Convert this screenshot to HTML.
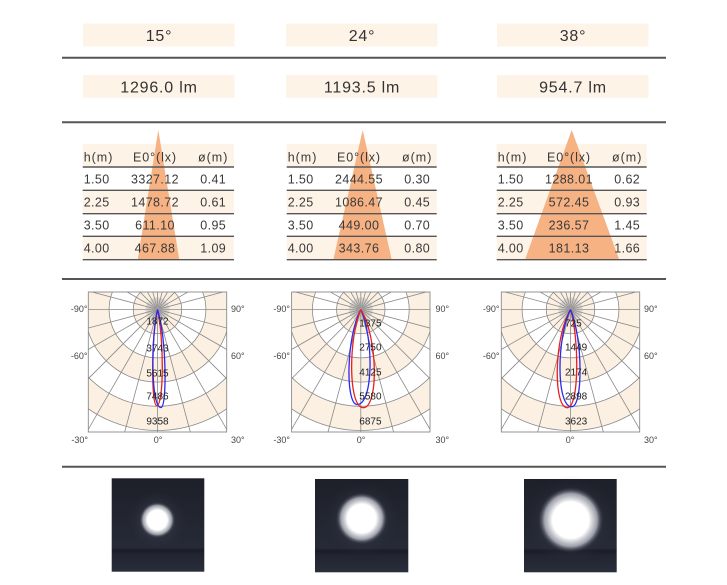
<!DOCTYPE html>
<html><head><meta charset="utf-8"><style>
html,body{margin:0;padding:0;background:#fff;}
svg{display:block;font-family:"Liberation Sans",sans-serif;}
</style></head><body>
<svg width="727" height="585" viewBox="0 0 727 585" xmlns="http://www.w3.org/2000/svg">
<defs>
<clipPath id="pc"><rect x="-69.2" y="-17.5" width="138.4" height="140"/></clipPath>
<linearGradient id="bg" x1="0" y1="0" x2="0" y2="1">
<stop offset="0" stop-color="#1d2029"/><stop offset="0.74" stop-color="#262a36"/>
<stop offset="0.77" stop-color="#1a1d26"/><stop offset="0.82" stop-color="#222531"/>
<stop offset="1" stop-color="#2a2d3a"/></linearGradient>
<radialGradient id="sp"><stop offset="0" stop-color="#fff"/><stop offset="0.55" stop-color="#fff"/>
<stop offset="0.8" stop-color="#c4c7d0" stop-opacity="0.75"/><stop offset="1" stop-color="#303442" stop-opacity="0"/></radialGradient>
<radialGradient id="gl"><stop offset="0" stop-color="#7d8190" stop-opacity="0.45"/><stop offset="1" stop-color="#303442" stop-opacity="0"/></radialGradient>
</defs>

<!-- header boxes -->
<g fill="#fdf3e7">
<rect x="83" y="23.5" width="151.5" height="23"/><rect x="286" y="23.5" width="151.5" height="23"/><rect x="497" y="23.5" width="151.5" height="23"/>
<rect x="83" y="75" width="151.5" height="22.7"/><rect x="286" y="75" width="151.5" height="22.7"/><rect x="497" y="75" width="151.5" height="22.7"/>
</g>
<g font-size="16" fill="#333" text-anchor="middle" letter-spacing="0.8">
<text x="159" y="40.8">15°</text><text x="362" y="40.8">24°</text><text x="573" y="40.8">38°</text>
<text x="159" y="92.3">1296.0 lm</text><text x="362" y="92.3">1193.5 lm</text><text x="573" y="92.3">954.7 lm</text>
</g>

<g stroke="#555" stroke-width="2">
<line x1="62" y1="57.7" x2="666" y2="57.7"/><line x1="62" y1="122.3" x2="666" y2="122.3"/>
<line x1="62" y1="279" x2="666" y2="279"/><line x1="62" y1="466.7" x2="666" y2="466.7"/>
</g>

<!-- tables -->
<g fill="#fdf3e7">
<rect x="82.7" y="144" width="151.3" height="23"/><rect x="82.7" y="190.3" width="151.3" height="23.4"/><rect x="82.7" y="236.3" width="151.3" height="23.4"/>
<rect x="286.7" y="144" width="150" height="23"/><rect x="286.7" y="190.3" width="150" height="23.4"/><rect x="286.7" y="236.3" width="150" height="23.4"/>
<rect x="496.7" y="144" width="150" height="23"/><rect x="496.7" y="190.3" width="150" height="23.4"/><rect x="496.7" y="236.3" width="150" height="23.4"/>
</g>
<g fill="#f6b283">
<polygon points="158.3,130 137.7,259.7 179.3,259.7"/>
<polygon points="362.7,130 333.3,259.7 391.7,259.7"/>
<polygon points="571.7,130 525,259.7 619.3,259.7"/>
</g>
<g stroke="#555" stroke-width="1.4">
<path d="M82.7 167H234M82.7 190.3H234M82.7 213.7H234M82.7 236.3H234M82.7 259.7H234"/>
<path d="M286.7 167H436.7M286.7 190.3H436.7M286.7 213.7H436.7M286.7 236.3H436.7M286.7 259.7H436.7"/>
<path d="M496.7 167H646.7M496.7 190.3H646.7M496.7 213.7H646.7M496.7 236.3H646.7M496.7 259.7H646.7"/>
</g>
<g font-size="12.5" fill="#3a3a3a" letter-spacing="0.4">
<g><text x="83.7" y="161.7" letter-spacing="1">h(m)</text><text x="83.7" y="183.7">1.50</text><text x="83.7" y="206.7">2.25</text><text x="83.7" y="229.4">3.50</text><text x="83.7" y="252.7">4.00</text></g>
<g text-anchor="middle"><text x="155" y="161.7" letter-spacing="0.9">E0°(lx)</text><text x="155" y="183.7">3327.12</text><text x="155" y="206.7">1478.72</text><text x="155" y="229.4">611.10</text><text x="155" y="252.7">467.88</text></g>
<g text-anchor="middle"><text x="213.2" y="161.7" letter-spacing="1">ø(m)</text><text x="213.2" y="183.7">0.41</text><text x="213.2" y="206.7">0.61</text><text x="213.2" y="229.4">0.95</text><text x="213.2" y="252.7">1.09</text></g>

<g><text x="287.7" y="161.7" letter-spacing="1">h(m)</text><text x="287.7" y="183.7">1.50</text><text x="287.7" y="206.7">2.25</text><text x="287.7" y="229.4">3.50</text><text x="287.7" y="252.7">4.00</text></g>
<g text-anchor="middle"><text x="359" y="161.7" letter-spacing="0.9">E0°(lx)</text><text x="359" y="183.7">2444.55</text><text x="359" y="206.7">1086.47</text><text x="359" y="229.4">449.00</text><text x="359" y="252.7">343.76</text></g>
<g text-anchor="middle"><text x="417.2" y="161.7" letter-spacing="1">ø(m)</text><text x="417.2" y="183.7">0.30</text><text x="417.2" y="206.7">0.45</text><text x="417.2" y="229.4">0.70</text><text x="417.2" y="252.7">0.80</text></g>

<g><text x="497.7" y="161.7" letter-spacing="1">h(m)</text><text x="497.7" y="183.7">1.50</text><text x="497.7" y="206.7">2.25</text><text x="497.7" y="229.4">3.50</text><text x="497.7" y="252.7">4.00</text></g>
<g text-anchor="middle"><text x="569" y="161.7" letter-spacing="0.9">E0°(lx)</text><text x="569" y="183.7">1288.01</text><text x="569" y="206.7">572.45</text><text x="569" y="229.4">236.57</text><text x="569" y="252.7">181.13</text></g>
<g text-anchor="middle"><text x="627.2" y="161.7" letter-spacing="1">ø(m)</text><text x="627.2" y="183.7">0.62</text><text x="627.2" y="206.7">0.93</text><text x="627.2" y="229.4">1.45</text><text x="627.2" y="252.7">1.66</text></g>
</g>

<!-- polar chart 1 -->
<g transform="translate(157.5,309.5)">
<g clip-path="url(#pc)">
<rect x="-70" y="-18" width="140" height="141" fill="#fff"/>
<circle r="121" fill="#fbf0e2"/><circle r="96.8" fill="#fff"/><circle r="72.6" fill="#fbf0e2"/><circle r="48.4" fill="#fff"/><circle r="24.2" fill="#fbf0e2"/>
<g fill="none" stroke="#8a8a8a" stroke-width="0.8">
<circle r="24.2"/><circle r="48.4"/><circle r="72.6"/><circle r="96.8"/><circle r="121"/><circle r="145.2"/>
<path d="M-150 0L150 0M-144.9-38.8L144.9 38.8M-129.9-75L129.9 75M-106.1-106.1L106.1 106.1M-75-129.9L75 129.9M-38.8-144.9L38.8 144.9M0-150L0 150"/>
<path transform="scale(-1,1)" d="M-144.9-38.8L144.9 38.8M-129.9-75L129.9 75M-106.1-106.1L106.1 106.1M-75-129.9L75 129.9M-38.8-144.9L38.8 144.9"/>
</g>
<g fill="none" stroke="#a0a0a0" stroke-width="0.35">
<path d="M-12-1.05L12 1.05M-11.82-2.08L11.82 2.08M-11.28-4.1L11.28 4.1M-10.88-5.07L10.88 5.07M-9.83-6.88L9.83 6.88M-9.19-7.71L9.19 7.71M-7.71-9.19L7.71 9.19M-6.88-9.83L6.88 9.83M-5.07-10.88L5.07 10.88M-4.1-11.28L4.1 11.28M-2.08-11.82L2.08 11.82M-1.05-12L1.05 12"/>
<path transform="scale(-1,1)" d="M-12-1.05L12 1.05M-11.82-2.08L11.82 2.08M-11.28-4.1L11.28 4.1M-10.88-5.07L10.88 5.07M-9.83-6.88L9.83 6.88M-9.19-7.71L9.19 7.71M-7.71-9.19L7.71 9.19M-6.88-9.83L6.88 9.83M-5.07-10.88L5.07 10.88M-4.1-11.28L4.1 11.28M-2.08-11.82L2.08 11.82M-1.05-12L1.05 12"/>
</g>
</g>
<rect x="-69.2" y="-17.5" width="138.4" height="140" fill="none" stroke="#8a8a8a" stroke-width="0.9"/>
<g fill="none" stroke-width="1.3">
<path stroke="#e8201e" d="M0 0C-6.3 28.8-6.3 96-0.8 96C6.5 96 6.5 28.8 0 0"/>
<path stroke="#2a2af0" d="M0 0C-6.6 29.4-6.6 98 3.5 98C9.4 98 9.4 29.4 0 0"/>
</g>
<g font-size="10" fill="#222" text-anchor="middle">
<text x="0" y="15.2">1872</text><text x="0" y="41.9">3743</text><text x="0" y="66.9">5615</text><text x="0" y="90.2">7486</text><text x="0" y="115.2">9358</text>
</g>
</g>

<!-- polar chart 2 -->
<g transform="translate(360.8,309.5)">
<g clip-path="url(#pc)">
<rect x="-70" y="-18" width="140" height="141" fill="#fff"/>
<circle r="121" fill="#fbf0e2"/><circle r="96.8" fill="#fff"/><circle r="72.6" fill="#fbf0e2"/><circle r="48.4" fill="#fff"/><circle r="24.2" fill="#fbf0e2"/>
<g fill="none" stroke="#8a8a8a" stroke-width="0.8">
<circle r="24.2"/><circle r="48.4"/><circle r="72.6"/><circle r="96.8"/><circle r="121"/><circle r="145.2"/>
<path d="M-150 0L150 0M-144.9-38.8L144.9 38.8M-129.9-75L129.9 75M-106.1-106.1L106.1 106.1M-75-129.9L75 129.9M-38.8-144.9L38.8 144.9M0-150L0 150"/>
<path transform="scale(-1,1)" d="M-144.9-38.8L144.9 38.8M-129.9-75L129.9 75M-106.1-106.1L106.1 106.1M-75-129.9L75 129.9M-38.8-144.9L38.8 144.9"/>
</g>
<g fill="none" stroke="#a0a0a0" stroke-width="0.35">
<path d="M-12-1.05L12 1.05M-11.82-2.08L11.82 2.08M-11.28-4.1L11.28 4.1M-10.88-5.07L10.88 5.07M-9.83-6.88L9.83 6.88M-9.19-7.71L9.19 7.71M-7.71-9.19L7.71 9.19M-6.88-9.83L6.88 9.83M-5.07-10.88L5.07 10.88M-4.1-11.28L4.1 11.28M-2.08-11.82L2.08 11.82M-1.05-12L1.05 12"/>
<path transform="scale(-1,1)" d="M-12-1.05L12 1.05M-11.82-2.08L11.82 2.08M-11.28-4.1L11.28 4.1M-10.88-5.07L10.88 5.07M-9.83-6.88L9.83 6.88M-9.19-7.71L9.19 7.71M-7.71-9.19L7.71 9.19M-6.88-9.83L6.88 9.83M-5.07-10.88L5.07 10.88M-4.1-11.28L4.1 11.28M-2.08-11.82L2.08 11.82M-1.05-12L1.05 12"/>
</g>
</g>
<rect x="-69.2" y="-17.5" width="138.4" height="140" fill="none" stroke="#8a8a8a" stroke-width="0.9"/>
<g fill="none" stroke-width="1.3">
<path stroke="#2a2af0" d="M0 0C-15.1 28.5-15.1 95-3.8 95C12.9 95 12.9 28.5 0 0"/>
<path stroke="#e8201e" d="M0 0C-12.6 29.5-12.6 98.2 2.5 98.2C17.6 98.2 17.6 29.5 0 0"/>
</g>
<g font-size="10" fill="#222">
<text x="-1.5" y="17.2">1375</text><text x="-1.5" y="41.2">2750</text><text x="-1.5" y="66.2">4125</text><text x="-1.5" y="89.9">5580</text><text x="-1.5" y="114.9">6875</text>
</g>
</g>

<!-- polar chart 3 -->
<g transform="translate(570.5,309.5)">
<g clip-path="url(#pc)">
<rect x="-70" y="-18" width="140" height="141" fill="#fff"/>
<circle r="121" fill="#fbf0e2"/><circle r="96.8" fill="#fff"/><circle r="72.6" fill="#fbf0e2"/><circle r="48.4" fill="#fff"/><circle r="24.2" fill="#fbf0e2"/>
<g fill="none" stroke="#8a8a8a" stroke-width="0.8">
<circle r="24.2"/><circle r="48.4"/><circle r="72.6"/><circle r="96.8"/><circle r="121"/><circle r="145.2"/>
<path d="M-150 0L150 0M-144.9-38.8L144.9 38.8M-129.9-75L129.9 75M-106.1-106.1L106.1 106.1M-75-129.9L75 129.9M-38.8-144.9L38.8 144.9M0-150L0 150"/>
<path transform="scale(-1,1)" d="M-144.9-38.8L144.9 38.8M-129.9-75L129.9 75M-106.1-106.1L106.1 106.1M-75-129.9L75 129.9M-38.8-144.9L38.8 144.9"/>
</g>
<g fill="none" stroke="#a0a0a0" stroke-width="0.35">
<path d="M-12-1.05L12 1.05M-11.82-2.08L11.82 2.08M-11.28-4.1L11.28 4.1M-10.88-5.07L10.88 5.07M-9.83-6.88L9.83 6.88M-9.19-7.71L9.19 7.71M-7.71-9.19L7.71 9.19M-6.88-9.83L6.88 9.83M-5.07-10.88L5.07 10.88M-4.1-11.28L4.1 11.28M-2.08-11.82L2.08 11.82M-1.05-12L1.05 12"/>
<path transform="scale(-1,1)" d="M-12-1.05L12 1.05M-11.82-2.08L11.82 2.08M-11.28-4.1L11.28 4.1M-10.88-5.07L10.88 5.07M-9.83-6.88L9.83 6.88M-9.19-7.71L9.19 7.71M-7.71-9.19L7.71 9.19M-6.88-9.83L6.88 9.83M-5.07-10.88L5.07 10.88M-4.1-11.28L4.1 11.28M-2.08-11.82L2.08 11.82M-1.05-12L1.05 12"/>
</g>
</g>
<rect x="-69.2" y="-17.5" width="138.4" height="140" fill="none" stroke="#8a8a8a" stroke-width="0.9"/>
<g fill="none" stroke-width="1.3">
<path stroke="#e8201e" d="M0 0C-17.1 29.5-17.1 98.2-3.2 98.2C8.8 98.2 8.8 29.5 0 0"/>
<path stroke="#2a2af0" d="M0 0C-14.2 29.2-14.2 97.2 1.2 97.2C12.5 97.2 12.5 29.2 0 0"/>
</g>
<g font-size="10" fill="#222">
<text x="-5.5" y="17.2">725</text><text x="-5.5" y="41.2">1449</text><text x="-5.5" y="66.2">2174</text><text x="-5.5" y="89.9">2898</text><text x="-5.5" y="114.9">3623</text>
</g>
</g>

<!-- angle labels -->
<g font-size="9" fill="#444">
<g text-anchor="end"><text x="87.5" y="312.2">-90°</text><text x="87.5" y="359">-60°</text><text x="88" y="443.2">-30°</text>
<text x="290" y="312.2">-90°</text><text x="290" y="359">-60°</text><text x="290" y="443.2">-30°</text>
<text x="499.5" y="312.2">-90°</text><text x="499.5" y="359">-60°</text></g>
<text x="231" y="312.2">90°</text><text x="231" y="359">60°</text><text x="231" y="443.2">30°</text>
<text x="435.5" y="312.2">90°</text><text x="435.5" y="359">60°</text><text x="435.5" y="443.2">30°</text>
<text x="644" y="312.2">90°</text><text x="644" y="359">60°</text><text x="644" y="443.2">30°</text>
<g text-anchor="middle"><text x="158" y="443.2">0°</text><text x="361" y="443.2">0°</text><text x="570" y="443.2">0°</text></g>
</g>

<!-- photos -->
<rect x="111.7" y="478.3" width="92.6" height="93.4" fill="url(#bg)"/>
<rect x="315" y="479" width="93.3" height="93.3" fill="url(#bg)"/>
<rect x="524" y="479" width="92.7" height="93.3" fill="url(#bg)"/>
<circle cx="157.3" cy="520" r="30" fill="url(#gl)"/>
<circle cx="157.3" cy="520" r="18" fill="url(#sp)"/>
<circle cx="361.7" cy="518.5" r="38" fill="url(#gl)"/>
<circle cx="361.7" cy="518.5" r="26" fill="url(#sp)"/>
<circle cx="570.7" cy="520" r="45" fill="url(#gl)"/>
<circle cx="570.7" cy="520" r="33" fill="url(#sp)"/>
</svg>
</body></html>
